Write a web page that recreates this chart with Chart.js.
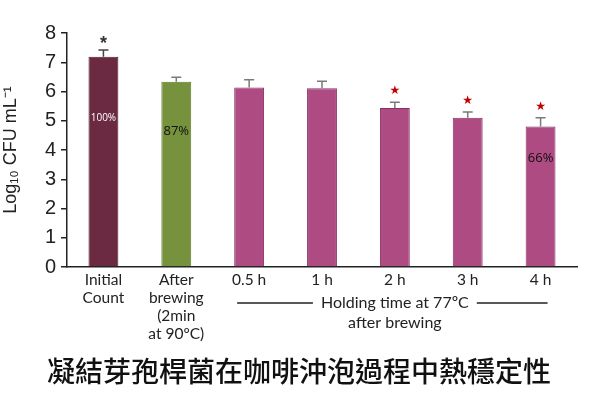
<!DOCTYPE html>
<html>
<head>
<meta charset="utf-8">
<script src="https://cdn.jsdelivr.net/npm/chart.js@4"></script>
<style>
  html, body { margin: 0; padding: 0; background: #fff; }
  #wrap { width: 600px; height: 400px; }
</style>
</head>
<body>
<div id="wrap"><canvas id="chart"></canvas></div>
<script>
// chart data
const categories = [["Initial", "Count"], ["After", "brewing", "(2min", "at 90ºC)"], "0.5 h", "1 h", "2 h", "3 h", "4 h"];
const logCounts = [7.19, 6.33, 6.14, 6.11, 5.44, 5.10, 4.80];
const errors = [0.23, 0.16, 0.26, 0.24, 0.19, 0.20, 0.30];
const stars = ["*", "", "", "", "★", "★", "★"];
const percentText = ["100%", "87%", "", "", "", "", "66%"];
const percentAt = [5.08, 4.64, null, null, null, null, 3.72];
const yTicks = [0, 1, 2, 3, 4, 5, 6, 7, 8];
const caption = "凝結芽孢桿菌在咖啡沖泡過程中熱穩定性";

const fillColors = ["#6b2a41", "#76923c", "#ad4b82", "#ad4b82", "#ad4b82", "#ad4b82", "#ad4b82"];
const edgeColors = ["#4f1c2e", "#5d7a2a", "#8c2e63", "#8c2e63", "#8c2e63", "#8c2e63", "#8c2e63"];

// error bars, stars, % labels, the holding-time bracket and the caption
const extras = {
    id: "extras",
    afterDatasetsDraw(chart) {
        const ctx = chart.ctx;
        const y = chart.scales.y;
        const x = chart.scales.x;
        const bars = chart.getDatasetMeta(0).data;

        ctx.save();
        bars.forEach((bar, i) => {
            let top = y.getPixelForValue(logCounts[i] + errors[i]);
            ctx.strokeStyle = i == 0 ? "#444" : "#7a7a7a";
            ctx.lineWidth = 1.5;
            ctx.beginPath();
            ctx.moveTo(bar.x, bar.y);
            ctx.lineTo(bar.x, top);
            ctx.moveTo(bar.x - 5, top);
            ctx.lineTo(bar.x + 5, top);
            ctx.stroke();

            if (stars[i]) {
                ctx.textAlign = "center";
                ctx.textBaseline = "middle";
                if (stars[i] == "*") {
                    ctx.fillStyle = "#333";
                    ctx.font = "bold 18px 'Liberation Sans'";
                    ctx.fillText(stars[i], bar.x, top - 6);
                } else {
                    ctx.fillStyle = "#c00000";
                    ctx.font = "12px 'DejaVu Sans'";
                    ctx.fillText(stars[i], bar.x, top - 11);
                }
            }

            if (percentText[i]) {
                ctx.textAlign = "center";
                ctx.textBaseline = "middle";
                if (i == 0) {
                    ctx.fillStyle = "#ffffff";
                    ctx.font = "10px 'Open Sans'";
                } else {
                    ctx.fillStyle = "#111";
                    ctx.font = "13px 'Open Sans'";
                }
                ctx.fillText(percentText[i], bar.x, y.getPixelForValue(percentAt[i]));
            }
        });

        // holding time bracket under the time labels
        let lineY = chart.chartArea.bottom + 36;
        let left = x.getPixelForValue(2) - 12;
        let right = x.getPixelForValue(6) + 7;
        let mid = x.getPixelForValue(4);
        ctx.font = "16px Lato";
        ctx.fillStyle = "#222";
        ctx.textAlign = "center";
        ctx.textBaseline = "middle";
        let label = "Holding time at 77ºC";
        let w = ctx.measureText(label).width;
        ctx.fillText(label, mid, lineY);
        ctx.fillText("after brewing", mid, lineY + 20);
        ctx.strokeStyle = "#222";
        ctx.lineWidth = 1.5;
        ctx.beginPath();
        ctx.moveTo(left, lineY);
        ctx.lineTo(mid - w / 2 - 8, lineY);
        ctx.moveTo(mid + w / 2 + 8, lineY);
        ctx.lineTo(right, lineY);
        ctx.stroke();

        // caption under the whole chart
        ctx.font = "500 28px 'Noto Sans CJK TC'";
        ctx.fillStyle = "#111";
        ctx.fillText(caption, chart.width / 2 - 1, chart.chartArea.bottom + 104);
        ctx.restore();
    }
};

let chart = new Chart(document.getElementById("chart").getContext("2d"), {
    type: "bar",
    data: {
        labels: categories,
        datasets: [{
            data: logCounts,
            backgroundColor: fillColors,
            borderColor: edgeColors,
            borderWidth: 1,
            barPercentage: 0.82,
            categoryPercentage: 0.5
        }]
    },
    options: {
        responsive: true,
        maintainAspectRatio: false,
        animation: false,
        layout: { padding: { top: 33, right: 23, left: 0, bottom: 0 } },
        plugins: {
            legend: { display: false },
            tooltip: { enabled: false }
        },
        scales: {
            x: {
                grid: { display: false },
                border: { display: true, color: "#222", width: 1.5 },
                ticks: {
                    color: "#222",
                    padding: -4,
                    maxRotation: 0,
                    autoSkip: false,
                    font: { family: "Lato", size: 15.5, lineHeight: 1.16 }
                },
                afterFit(scale) { scale.height = 133; }
            },
            y: {
                min: 0,
                max: 8,
                afterBuildTicks(scale) { scale.ticks = yTicks.map(v => ({ value: v })); },
                grid: { drawOnChartArea: false, drawTicks: true, tickLength: 6, color: "#222", lineWidth: 1.5 },
                border: { display: true, color: "#222", width: 1.5 },
                ticks: {
                    color: "#222",
                    padding: 5,
                    font: { family: "'Liberation Sans'", size: 20 }
                },
                title: {
                    display: true,
                    text: "Log₁₀ CFU mL⁻¹",
                    color: "#222",
                    font: { family: "'Liberation Sans'", size: 18 },
                    padding: { top: 0, bottom: 2 }
                },
                afterFit(scale) { scale.width = 67; }
            }
        }
    },
    plugins: [extras]
});
</script>
</body>
</html>
